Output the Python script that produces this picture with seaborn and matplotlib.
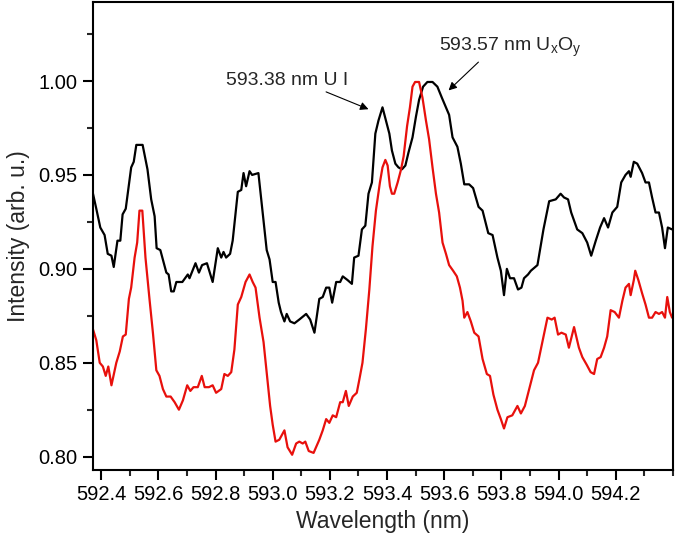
import matplotlib
matplotlib.use('Agg')
import matplotlib.pyplot as plt
from matplotlib.ticker import MultipleLocator, FormatStrFormatter
import seaborn as sns
import pandas as pd

# black trace
wl_black = [592.370, 592.383, 592.397, 592.412, 592.423, 592.436, 592.444, 592.457, 592.467, 592.475,
            592.486, 592.505, 592.514, 592.523, 592.545, 592.562, 592.575, 592.587, 592.594, 592.607,
            592.628, 592.636, 592.645, 592.654, 592.663, 592.684, 592.703, 592.709, 592.730, 592.742,
            592.753, 592.770, 592.790, 592.808, 592.820, 592.828, 592.837, 592.851, 592.860, 592.878,
            592.890, 592.898, 592.907, 592.919, 592.928, 592.950, 592.965, 592.979, 592.989, 593.000,
            593.010, 593.021, 593.029, 593.041, 593.049, 593.061, 593.076, 593.093, 593.117, 593.131,
            593.146, 593.163, 593.175, 593.187, 593.198, 593.208, 593.222, 593.236, 593.245, 593.262,
            593.277, 593.285, 593.300, 593.312, 593.324, 593.335, 593.347, 593.359, 593.370, 593.384,
            593.396, 593.408, 593.417, 593.429, 593.440, 593.452, 593.464, 593.475, 593.489, 593.501,
            593.512, 593.526, 593.541, 593.559, 593.576, 593.592, 593.606, 593.617, 593.629, 593.646,
            593.658, 593.670, 593.687, 593.701, 593.720, 593.734, 593.754, 593.769, 593.786, 593.798,
            593.809, 593.819, 593.830, 593.844, 593.858, 593.870, 593.879, 593.893, 593.903, 593.926,
            593.947, 593.967, 593.990, 594.007, 594.019, 594.033, 594.044, 594.065, 594.083, 594.100,
            594.114, 594.130, 594.145, 594.159, 594.173, 594.188, 594.205, 594.219, 594.234, 594.246,
            594.252, 594.263, 594.275, 594.292, 594.304, 594.316, 594.327, 594.339, 594.351, 594.362,
            594.372, 594.382, 594.397]
int_black = [0.941, 0.932, 0.922, 0.918, 0.908, 0.907, 0.901, 0.915, 0.915, 0.929,
             0.932, 0.954, 0.957, 0.966, 0.966, 0.953, 0.937, 0.928, 0.911, 0.910,
             0.898, 0.897, 0.888, 0.888, 0.893, 0.893, 0.897, 0.895, 0.903, 0.898,
             0.902, 0.903, 0.893, 0.911, 0.906, 0.909, 0.906, 0.908, 0.915, 0.941,
             0.942, 0.951, 0.944, 0.952, 0.950, 0.951, 0.930, 0.910, 0.905, 0.893,
             0.893, 0.882, 0.877, 0.872, 0.876, 0.872, 0.871, 0.873, 0.876, 0.873,
             0.866, 0.884, 0.885, 0.890, 0.890, 0.882, 0.893, 0.893, 0.896, 0.894,
             0.892, 0.906, 0.907, 0.921, 0.923, 0.940, 0.946, 0.972, 0.979, 0.986,
             0.979, 0.972, 0.963, 0.956, 0.954, 0.953, 0.955, 0.962, 0.970, 0.981,
             0.990, 0.997, 0.9995, 0.9995, 0.997, 0.991, 0.986, 0.982, 0.970, 0.965,
             0.956, 0.945, 0.945, 0.943, 0.933, 0.931, 0.919, 0.918, 0.906, 0.899,
             0.886, 0.900, 0.895, 0.895, 0.889, 0.890, 0.895, 0.897, 0.899, 0.902,
             0.921, 0.936, 0.937, 0.940, 0.938, 0.937, 0.930, 0.921, 0.919, 0.914,
             0.907, 0.915, 0.922, 0.927, 0.922, 0.930, 0.933, 0.946, 0.950, 0.952,
             0.949, 0.957, 0.956, 0.951, 0.946, 0.946, 0.938, 0.930, 0.930, 0.922,
             0.911, 0.922, 0.921]

# red trace
wl_red = [592.371, 592.383, 592.395, 592.406, 592.416, 592.425, 592.436, 592.453, 592.465, 592.476,
          592.486, 592.497, 592.505, 592.517, 592.526, 592.534, 592.544, 592.555, 592.569, 592.581,
          592.593, 592.604, 592.616, 592.628, 592.643, 592.657, 592.672, 592.686, 592.701, 592.712,
          592.723, 592.738, 592.752, 592.762, 592.777, 592.790, 592.802, 592.820, 592.831, 592.843,
          592.855, 592.866, 592.878, 592.890, 592.905, 592.919, 592.930, 592.940, 592.954, 592.968,
          592.979, 592.991, 593.000, 593.010, 593.023, 593.041, 593.052, 593.068, 593.082, 593.093,
          593.105, 593.114, 593.126, 593.143, 593.163, 593.175, 593.187, 593.198, 593.210, 593.222,
          593.236, 593.245, 593.256, 593.266, 593.280, 593.294, 593.303, 593.314, 593.326, 593.338,
          593.349, 593.361, 593.375, 593.384, 593.394, 593.402, 593.410, 593.417, 593.425, 593.437,
          593.449, 593.458, 593.470, 593.480, 593.489, 593.498, 593.512, 593.524, 593.536, 593.547,
          593.559, 593.571, 593.582, 593.594, 593.606, 593.617, 593.631, 593.644, 593.655, 593.664,
          593.670, 593.681, 593.693, 593.705, 593.720, 593.734, 593.749, 593.760, 593.772, 593.786,
          593.798, 593.809, 593.821, 593.838, 593.856, 593.868, 593.882, 593.897, 593.914, 593.928,
          593.946, 593.961, 593.976, 593.986, 593.998, 594.010, 594.025, 594.036, 594.054, 594.071,
          594.083, 594.098, 594.112, 594.124, 594.135, 594.147, 594.159, 594.170, 594.182, 594.196,
          594.211, 594.223, 594.234, 594.246, 594.252, 594.263, 594.268, 594.279, 594.292, 594.304,
          594.316, 594.327, 594.339, 594.351, 594.362, 594.372, 594.380, 594.389, 594.397]
int_red = [0.868, 0.862, 0.850, 0.848, 0.843, 0.848, 0.838, 0.850, 0.856, 0.864,
           0.865, 0.884, 0.890, 0.906, 0.914, 0.931, 0.931, 0.906, 0.884, 0.866,
           0.846, 0.843, 0.836, 0.832, 0.832, 0.829, 0.825, 0.830, 0.838, 0.835,
           0.837, 0.837, 0.843, 0.837, 0.837, 0.838, 0.834, 0.836, 0.844, 0.843,
           0.845, 0.857, 0.881, 0.885, 0.893, 0.897, 0.893, 0.890, 0.874, 0.861,
           0.845, 0.827, 0.817, 0.808, 0.809, 0.814, 0.805, 0.801, 0.807, 0.808,
           0.807, 0.808, 0.803, 0.802, 0.809, 0.814, 0.820, 0.818, 0.822, 0.821,
           0.829, 0.829, 0.835, 0.827, 0.832, 0.834, 0.841, 0.850, 0.868, 0.889,
           0.912, 0.931, 0.946, 0.954, 0.958, 0.955, 0.944, 0.940, 0.940, 0.946,
           0.953, 0.960, 0.976, 0.986, 0.997, 0.9995, 0.9995, 0.991, 0.979, 0.969,
           0.954, 0.940, 0.930, 0.914, 0.908, 0.902, 0.899, 0.896, 0.890, 0.883,
           0.874, 0.877, 0.872, 0.866, 0.864, 0.852, 0.844, 0.843, 0.833, 0.825,
           0.820, 0.815, 0.821, 0.822, 0.827, 0.823, 0.827, 0.836, 0.846, 0.850,
           0.863, 0.874, 0.873, 0.874, 0.865, 0.866, 0.865, 0.858, 0.869, 0.858,
           0.853, 0.849, 0.845, 0.844, 0.852, 0.853, 0.858, 0.864, 0.878, 0.877,
           0.874, 0.883, 0.890, 0.892, 0.886, 0.894, 0.899, 0.894, 0.887, 0.881,
           0.874, 0.874, 0.877, 0.876, 0.877, 0.874, 0.885, 0.877, 0.874]

x_ticks = [592.4, 592.6, 592.8, 593.0, 593.2, 593.4, 593.6, 593.8, 594.0, 594.2]
y_ticks = [0.80, 0.85, 0.90, 0.95, 1.00]

sns.set_style("ticks")
plt.rcParams['font.family'] = ['Liberation Sans', 'DejaVu Sans']
plt.rcParams['mathtext.fontset'] = 'custom'
plt.rcParams['mathtext.rm'] = 'Liberation Sans'
plt.rcParams['mathtext.it'] = 'Liberation Sans'

df_black = pd.DataFrame({"wl": wl_black, "intensity": int_black})
df_red = pd.DataFrame({"wl": wl_red, "intensity": int_red})

fig = plt.figure(figsize=(6.75, 5.4), dpi=100)
ax = fig.add_axes([0.138, 0.130, 0.859, 0.866])

sns.lineplot(data=df_black, x="wl", y="intensity", color="black", lw=1.6, estimator=None, ax=ax)
sns.lineplot(data=df_red, x="wl", y="intensity", color="#e8100c", lw=1.6, estimator=None, ax=ax)

ax.set_xlim(592.372, 594.40)
ax.set_ylim(0.793, 1.042)
ax.set_xticks(x_ticks)
ax.set_yticks(y_ticks)
ax.xaxis.set_minor_locator(MultipleLocator(0.1))
ax.yaxis.set_minor_locator(MultipleLocator(0.025))
ax.yaxis.set_major_formatter(FormatStrFormatter('%.2f'))
ax.xaxis.set_major_formatter(FormatStrFormatter('%.1f'))

for s in ax.spines.values():
    s.set_linewidth(1.5)
    s.set_color("black")
ax.tick_params(which="major", direction="out", length=7, width=1.5, labelsize=14.5,
               colors="black", pad=4)
ax.tick_params(which="minor", direction="out", length=4, width=1.5)

ax.set_xlabel("Wavelength (nm)", fontsize=16.5, labelpad=4)
ax.set_ylabel("Intensity (arb. u.)", fontsize=16.5, labelpad=6)

# peak annotations
ax.annotate("593.38 nm U I", xy=(593.335, 0.985), xytext=(592.838, 1.0005),
            fontsize=14, va="center", ha="left",
            arrowprops=dict(arrowstyle="-|>", color="black", lw=0.8, mutation_scale=12,
                            shrinkA=0, shrinkB=0, relpos=(0.75, 0.0)))
ax.annotate(r"593.57 nm U$_\mathrm{x}$O$_\mathrm{y}$", xy=(593.615, 0.995), xytext=(593.582, 1.018),
            fontsize=14, va="center", ha="left",
            arrowprops=dict(arrowstyle="-|>", color="black", lw=0.8, mutation_scale=12,
                            shrinkA=0, shrinkB=0, relpos=(0.3, 0.0)))

plt.savefig("out.png", dpi=100)
plt.close()
